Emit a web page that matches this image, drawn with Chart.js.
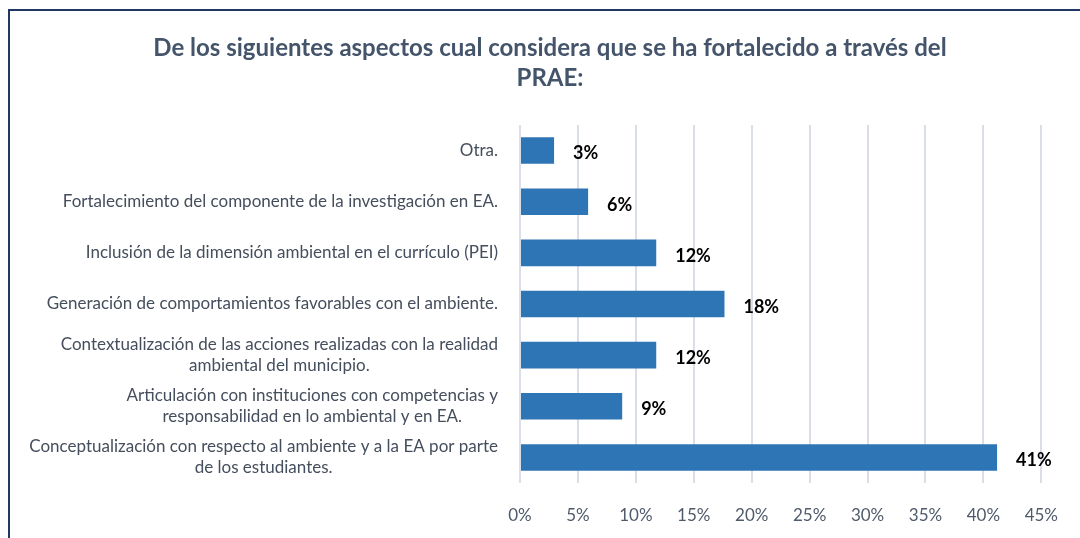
<!DOCTYPE html>
<html>
<head>
<meta charset="utf-8">
<script src="https://cdn.jsdelivr.net/npm/chart.js@4/dist/chart.umd.min.js"></script>
<style>
  html,body{margin:0;padding:0;background:#fff;overflow:hidden;}
  #wrap{position:absolute;left:0;top:0;width:1080px;height:538px;}
  #frame{position:absolute;left:8px;top:9px;width:1200px;height:700px;border-left:2px solid #1F3864;border-top:2px solid #1F3864;box-sizing:border-box;}
  canvas{position:absolute;left:0;top:0;}
</style>
</head>
<body>
<div id="wrap">
  <div id="frame"></div>
  <canvas id="c" width="1080" height="538"></canvas>
</div>
<script>
const titleLines = ['De los siguientes aspectos cual considera que se ha fortalecido a través del', 'PRAE:'];
const categories = [
  ['Otra.'],
  ['Fortalecimiento del componente de la investigación en EA.'],
  ['Inclusión de la dimensión ambiental en el currículo (PEI)'],
  ['Generación de comportamientos favorables con el ambiente.'],
  ['Contextualización de las acciones realizadas con la realidad', 'ambiental del municipio.'],
  ['Articulación con instituciones con competencias y', 'responsabilidad en lo ambiental y en EA.'],
  ['Conceptualización con respecto al ambiente y a la EA por parte', 'de los estudiantes.']
];
const values = [2.94, 5.88, 11.76, 17.65, 11.76, 8.82, 41.18];
const xTicks = [0, 5, 10, 15, 20, 25, 30, 35, 40, 45];

const FONT = 'Lato, "Open Sans", sans-serif';
const LABEL_FONT_SIZE = 17;
const LABEL_COLOR = '#454e5c';

const yLabelPlugin = {
  id: 'yLabels',
  afterDraw(chart) {
    const ctx = chart.ctx;
    const ys = chart.scales.y;
    const right = chart.chartArea.left - 22;
    const lh = 21;
    ctx.save();
    ctx.font = LABEL_FONT_SIZE + 'px ' + FONT;
    ctx.fillStyle = LABEL_COLOR;
    ctx.textAlign = 'center';
    ctx.textBaseline = 'middle';
    categories.forEach((lines, i) => {
      const yc = ys.getPixelForTick(i);
      const w = Math.max(...lines.map(l => ctx.measureText(l).width));
      const cx = right - w / 2;
      const y0 = yc - (lines.length - 1) * lh / 2;
      lines.forEach((l, k) => ctx.fillText(l, cx, y0 + k * lh));
    });
    ctx.restore();
  }
};

const valueLabelPlugin = {
  id: 'valueLabels',
  afterDatasetsDraw(chart) {
    const ctx = chart.ctx;
    const meta = chart.getDatasetMeta(0);
    ctx.save();
    ctx.font = 'bold 18px ' + FONT;
    ctx.fillStyle = '#000';
    ctx.textAlign = 'left';
    ctx.textBaseline = 'middle';
    meta.data.forEach((el, i) => {
      ctx.fillText(Math.round(values[i]) + '%', el.x + 19, el.y + 3);
    });
    ctx.restore();
  }
};

new Chart(document.getElementById('c'), {
  type: 'bar',
  data: {
    labels: categories,
    datasets: [{
      data: values,
      backgroundColor: '#2E75B6',
      borderWidth: 0,
      barPercentage: 0.52,
      categoryPercentage: 1.0
    }]
  },
  options: {
    indexAxis: 'y',
    responsive: false,
    animation: false,
    devicePixelRatio: 1,
    layout: { padding: { left: 57, right: 37, top: 33, bottom: 12 } },
    plugins: {
      legend: { display: false },
      tooltip: { enabled: false },
      title: {
        display: true,
        text: titleLines,
        color: '#44546A',
        font: { family: FONT, size: 24, weight: 'bold', lineHeight: 1.25 },
        padding: { top: 0, bottom: 32 }
      }
    },
    scales: {
      x: {
        min: 0,
        max: 45,
        afterBuildTicks(s) { s.ticks = xTicks.map(v => ({ value: v })); },
        grid: { color: '#d9dee7', lineWidth: 2, drawTicks: false },
        border: { display: false },
        ticks: {
          color: '#4f5a6b',
          font: { family: FONT, size: 17, lineHeight: 1.2 },
          padding: 22,
          callback: v => v + '%'
        },
        afterFit(s) { s.height = 43; }
      },
      y: {
        grid: { display: false },
        border: { display: false },
        ticks: { display: false },
        afterFit(s) { s.width = 463; }
      }
    }
  },
  plugins: [yLabelPlugin, valueLabelPlugin]
});
</script>
</body>
</html>
